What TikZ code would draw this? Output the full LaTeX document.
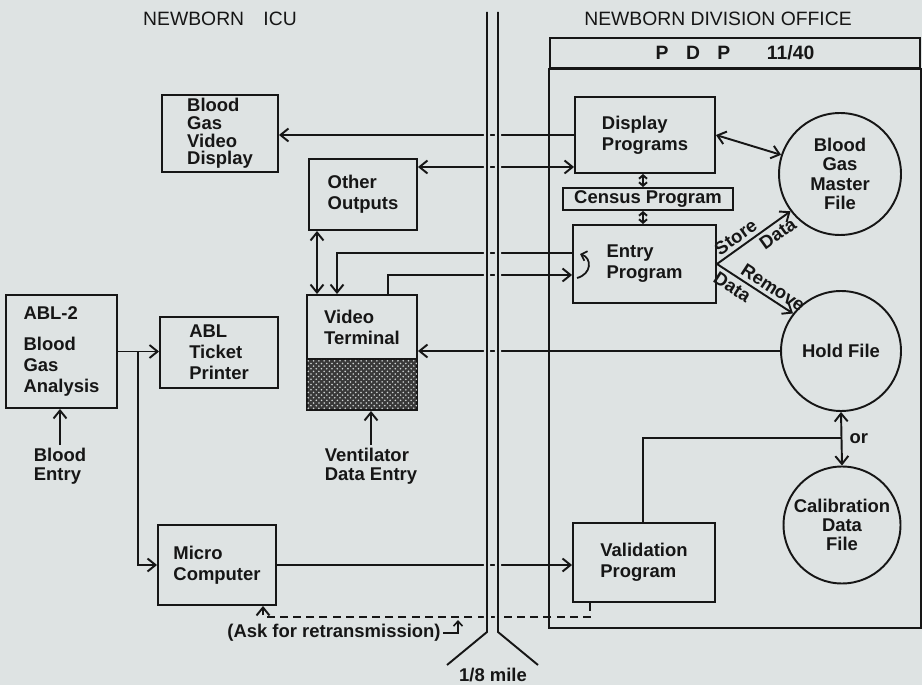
\documentclass[tikz,border=0pt]{standalone}
\usepackage{fontspec}
\setmainfont{Liberation Sans}
\usepackage{xcolor}
\usetikzlibrary{arrows.meta,patterns,positioning,calc}
\definecolor{paper}{RGB}{222,227,227}
\definecolor{ink}{RGB}{22,22,22}

\begin{document}
\begin{tikzpicture}[
    x=0.02cm, y=-0.02cm,
    color=ink, line width=1.1pt,
    box/.style={rectangle, draw, line width=1.1pt, inner sep=1pt, align=left, font=\fontsize{10.5}{12}\selectfont\bfseries},
    filebox/.style={circle, draw, line width=1.1pt, inner sep=0pt, align=center, font=\fontsize{10.5}{11}\selectfont\bfseries},
    lbl/.style={inner sep=1pt, align=center, font=\fontsize{10.5}{11}\selectfont\bfseries},
    title/.style={inner sep=1pt, font=\fontsize{11}{13}\selectfont},
    arr/.style={-{Straight Barb[length=1.6mm,width=2.6mm]}},
    dblarr/.style={{Straight Barb[length=1.6mm,width=2.6mm]}-{Straight Barb[length=1.6mm,width=2.6mm]}},
    smallarr/.style={{Straight Barb[length=0.7mm,width=1.6mm]}-{Straight Barb[length=0.7mm,width=1.6mm]}},
    hookarr/.style={-{Straight Barb[length=1mm,width=1.8mm]}},
    dsh/.style={dash pattern=on 4.5pt off 3pt},
    cable/.style={line width=1.1pt, preaction={draw=paper, line width=3.6pt}}
]

% Page
\useasboundingbox (0,0) rectangle (922,685);
\fill[paper] (0,0) rectangle (922,685);

% Titles
\node[title] (icu) at (220,19) {NEWBORN\quad ICU};
\node[title] (office) at (718,19) {NEWBORN DIVISION OFFICE};

% PDP 11/40 frame
\node[draw, minimum width=7.4cm, minimum height=0.6cm, inner sep=0pt, font=\fontsize{11}{12}\selectfont\bfseries] (pdp) at (735,53) {P\hspace{0.9em}D\hspace{0.9em}P\hspace{1.9em}11/40};
\draw (pdp.south west) rectangle (pdp.south east |- 0,628);

% ICU side
\node[box, minimum width=2.32cm, minimum height=1.54cm, font=\fontsize{10.5}{10}\selectfont\bfseries] (bgvd) at (220,133.5) {Blood\\Gas\\Video\\Display};
\node[box, minimum width=2.16cm, minimum height=1.42cm] (other) at (363,194.5) {Other\\Outputs};
\node[box, minimum width=2.22cm, minimum height=2.26cm] (abl2) at (61.5,351.5) {ABL-2\\[6pt]Blood\\Gas\\Analysis};
\node[box, minimum width=2.36cm, minimum height=1.42cm] (ticket) at (219,352.5) {ABL\\Ticket\\Printer};
\node[box, minimum width=2.2cm, minimum height=1.28cm] (vterm) at (362,327) {Video\\Terminal};
\node[box, minimum width=2.2cm, minimum height=1.02cm, fill=ink!85, postaction={pattern=crosshatch dots, pattern color=paper!85!gray}] (vkey) at (362,384.5) {};
\node[box, minimum width=2.36cm, minimum height=1.6cm] (micro) at (217,565) {Micro\\Computer};
\node[lbl, align=left] (bentry) at (60,466) {Blood\\Entry};
\node[lbl, align=left] (vent) at (371,466) {Ventilator\\Data Entry};

% Division office side
\node[box, minimum width=2.8cm, minimum height=1.52cm] (display) at (645,135) {Display\\Programs};
\node[box, minimum width=3.4cm, minimum height=0.44cm] (census) at (648,199) {Census Program};
\node[box, minimum width=2.86cm, minimum height=1.56cm] (entry) at (644.5,264) {Entry\\Program};
\node[box, minimum width=2.84cm, minimum height=1.58cm] (valid) at (644,562.5) {Validation\\Program};
\node[filebox, minimum size=2.44cm] (master) at (840,174) {Blood\\Gas\\Master\\File};
\node[filebox, minimum size=2.4cm] (hold) at (841,351) {Hold File};
\node[filebox, minimum size=2.34cm] (calib) at (842,525) {Calibration\\Data\\File};

% Display programs outputs
\draw[arr] (display.west) -- (display.west -| bgvd.east);
\draw[dblarr] (display.west |- 0,167) -- (other.east |- 0,167);
\draw[dblarr] (other.south -| 317,0) -- (vterm.north -| 317,0);

% Entry program <-> video terminal
\draw[arr] (entry.west |- 0,253) -| (vterm.north -| 337,0);
\draw[arr] (vterm.north -| 388,0) |- (entry.west |- 0,275);
\draw[-{Straight Barb[length=1mm,width=2mm]}, line width=1pt] (577,278) .. controls (592,274) and (592,258) .. (580,254);

% Census program links
\draw[smallarr] (display.south -| 643,0) -- (census.north -| 643,0);
\draw[smallarr] (census.south -| 643,0) -- (entry.north -| 643,0);

% Files
\draw[dblarr] (display.east) -- (master.162);
\draw[arr] (entry.east) -- (master.217)
    node[pos=0.34, sloped, above=1pt, lbl] {Store}
    node[pos=0.74, sloped, below=1pt, lbl] {Data};
\draw[arr] (entry.east) -- (hold.142)
    node[pos=0.66, sloped, above=1pt, lbl] {Remove}
    node[pos=0.28, sloped, below=1pt, lbl] {Data};
\draw[arr] (hold.west) -- (hold.west -| vterm.east);
\draw[dblarr] (hold.south) -- (calib.north) node[midway, right=3pt, lbl] {or};
\draw (valid.north -| 643,0) |- (hold.south |- 0,438);

% ABL-2 outputs
\draw[arr] (bentry.north) -- (bentry.north |- abl2.south);
\draw[arr] (abl2.east) -- (abl2.east -| ticket.west);
\draw[arr] (abl2.east -| 138,0) |- (micro.west);
\draw[arr] (micro.east) -- (micro.east -| valid.west);
\draw[arr] (vent.north) -- (vent.north |- vkey.south);

% Retransmission
\coordinate (retx) at (263,617);
\draw[arr, dsh] (valid.south -| 590,0) |- (retx) -- (retx |- micro.south);
\node[lbl] (ask) at (334,633) {(Ask for retransmission)};
\draw[hookarr, line width=0.9pt] (ask.east) -| (458,620);

% 1/8 mile link
\draw[cable] (487,12) -- (487,632) -- (447,665);
\draw[cable] (498,12) -- (498,632) -- (538,665);
\node[lbl] (mile) at (493,675) {1/8 mile};

\end{tikzpicture}
\end{document}
